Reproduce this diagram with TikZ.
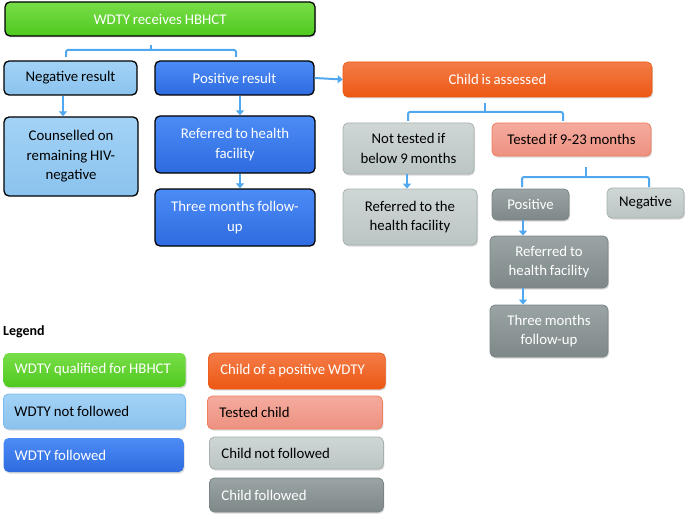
\documentclass[tikz,border=0pt]{standalone}
\usepackage{fontspec}
\setmainfont{Carlito}[WordSpace=0.85]
\usetikzlibrary{shadows,arrows.meta}
\definecolor{gTop}{HTML}{78DE48}
\definecolor{gBot}{HTML}{4FC91E}
\definecolor{lbTop}{HTML}{A3D2F6}
\definecolor{lbBot}{HTML}{8AC3EE}
\definecolor{lbLine}{HTML}{7DB9EA}
\definecolor{bTop}{HTML}{4C8CF6}
\definecolor{bBot}{HTML}{2E6BE0}
\definecolor{oTop}{HTML}{F47C48}
\definecolor{oBot}{HTML}{EC5812}
\definecolor{sTop}{HTML}{F4AB9E}
\definecolor{sBot}{HTML}{EE9180}
\definecolor{sLine}{HTML}{EE7F5E}
\definecolor{lgTop}{HTML}{CFD7D6}
\definecolor{lgBot}{HTML}{BBC5C4}
\definecolor{lgLine}{HTML}{A6B0AF}
\definecolor{dgTop}{HTML}{9AA4A4}
\definecolor{dgBot}{HTML}{7E8888}
\definecolor{dgLine}{HTML}{7A8484}
\definecolor{conn}{HTML}{52A8EE}
\newcommand{\legtxt}[2]{\makebox[#1][l]{#2}}
\begin{document}
\begin{tikzpicture}[x=1pt,y=-1pt,font=\fontsize{14.8}{19.5}\selectfont,
  box/.style={rectangle,rounded corners=5pt,inner sep=1pt,align=center,line width=1.3pt},
  blk/.style={box,draw=black},
  sh/.style={drop shadow={shadow xshift=1pt,shadow yshift=-1.5pt,opacity=0.3}},
  greenbox/.style={top color=gTop,bottom color=gBot,text=white},
  lbluebox/.style={top color=lbTop,bottom color=lbBot,text=black},
  bluebox/.style={top color=bTop,bottom color=bBot,text=white},
  orangebox/.style={box,sh,top color=oTop,bottom color=oBot,text=white,draw=oBot,line width=0.6pt},
  salmonbox/.style={box,sh,top color=sTop,bottom color=sBot,text=black,draw=sLine,line width=0.8pt},
  lgraybox/.style={box,sh,top color=lgTop,bottom color=lgBot,text=black,draw=lgLine,line width=0.8pt},
  dgraybox/.style={box,sh,top color=dgTop,bottom color=dgBot,text=white,draw=dgLine,line width=0.8pt},
  legbox/.style={anchor=west,inner xsep=11pt},
  arr/.style={draw=conn,line width=2pt,-{Triangle[length=5pt,width=8pt]}},
  brk/.style={draw=conn,line width=2pt,rounded corners=2pt}]
\useasboundingbox (0,0) rectangle (685,516);

% ---- main flow (left) ----
\node[blk,sh,greenbox,minimum width=310pt,minimum height=34pt] (top) at (160,19) {WDTY receives HBHCT};
\node[blk,lbluebox,minimum width=133pt,minimum height=34pt] (neg) at (70.5,78) {Negative result};
\node[blk,bluebox,minimum width=159pt,minimum height=34pt] (pos) at (234.5,78) {Positive result};
\node[blk,lbluebox,minimum width=134pt,minimum height=79pt] (couns) at (71,156.5) {Counselled on\\remaining HIV-\\negative};
\node[blk,bluebox,minimum width=160pt,minimum height=57pt] (ref) at (235,144.5) {Referred to health\\facility};
\node[blk,bluebox,minimum width=160pt,minimum height=57pt] (three) at (235,217.5) {Three months follow-\\up};

% ---- child flow (right) ----
\node[orangebox,minimum width=309pt,minimum height=35pt] (child) at (497.5,79.5) {Child is assessed};
\node[lgraybox,minimum width=131pt,minimum height=51pt] (nott) at (408.5,148.5) {Not tested if\\below 9 months};
\node[salmonbox,minimum width=159pt,minimum height=33pt] (tested) at (571.5,139.5) {Tested if 9-23 months};
\node[lgraybox,minimum width=134pt,minimum height=56pt] (refthe) at (410,217) {Referred to the\\health facility};
\node[dgraybox,minimum width=77pt,minimum height=31pt] (cpos) at (530.5,204.5) {Positive};
\node[lgraybox,minimum width=77pt,minimum height=30pt] (cneg) at (645.5,203) {Negative};
\node[dgraybox,minimum width=118pt,minimum height=52pt] (cref) at (549,262) {Referred to\\health facility};
\node[dgraybox,minimum width=118pt,minimum height=52pt] (cthree) at (549,331) {Three months\\follow-up};

% ---- brackets ----
\coordinate (b1c) at (151,45);
\coordinate (b1l) at (66,57);
\coordinate (b1r) at (236,57);
\draw[brk] (b1l) -- (66,50) -- (236,50) -- (b1r);
\draw[brk] (b1c) -- (151,50);
\coordinate (b2c) at (485,103);
\coordinate (b2l) at (408,121);
\coordinate (b2r) at (563,121);
\draw[brk] (b2l) -- (408,112) -- (563,112) -- (b2r);
\draw[brk] (b2c) -- (485,112);
\coordinate (b3c) at (586,167);
\coordinate (b3l) at (522,187);
\coordinate (b3r) at (649,187);
\draw[brk] (b3l) -- (522,177) -- (649,177) -- (b3r);
\draw[brk] (b3c) -- (586,177);

% ---- arrows ----
\draw[arr] ([xshift=-7.5pt]neg.south) -- ([xshift=-7.5pt]neg.south |- couns.north);
\draw[arr] ([xshift=5.5pt]pos.south) -- ([xshift=5.5pt]pos.south |- ref.north);
\draw[arr] ([xshift=5pt]ref.south) -- ([xshift=5pt]ref.south |- three.north);
\draw[arr] (pos.east) -- (child.west);
\draw[arr] ([xshift=-1.5pt]nott.south) -- ([xshift=-1.5pt]nott.south |- refthe.north);
\draw[arr] ([xshift=-7.5pt]cpos.south) -- ([xshift=-7.5pt]cpos.south |- cref.north);
\draw[arr] ([xshift=-26pt]cref.south) -- ([xshift=-26pt]cref.south |- cthree.north);

% ---- legend ----
\node[anchor=west,inner sep=0pt,font=\fontsize{14}{16}\selectfont\bfseries] (leg) at (3,332) {Legend};
\node[box,sh,greenbox,legbox,minimum height=34pt] (l1) at (3,370) {\legtxt{160pt}{WDTY qualified for HBHCT}};
\node[box,sh,lbluebox,legbox,draw=lbLine,line width=0.8pt,minimum height=35pt] (l2) at (3,411.5) {\legtxt{160pt}{WDTY not followed}};
\node[box,sh,bluebox,legbox,minimum height=34pt] (l3) at (3,455) {\legtxt{158pt}{WDTY followed}};
\node[orangebox,legbox,inner xsep=12pt,minimum height=36pt] (r1) at (208,371) {\legtxt{153pt}{Child of a positive WDTY}};
\node[salmonbox,legbox,inner xsep=12pt,minimum height=33pt] (r2) at (207,412.5) {\legtxt{151pt}{Tested child}};
\node[lgraybox,legbox,inner xsep=12pt,minimum height=32pt] (r3) at (209,453) {\legtxt{150pt}{Child not followed}};
\node[dgraybox,legbox,inner xsep=12pt,minimum height=34pt] (r4) at (209,495) {\legtxt{150pt}{Child followed}};
\end{tikzpicture}
\end{document}
